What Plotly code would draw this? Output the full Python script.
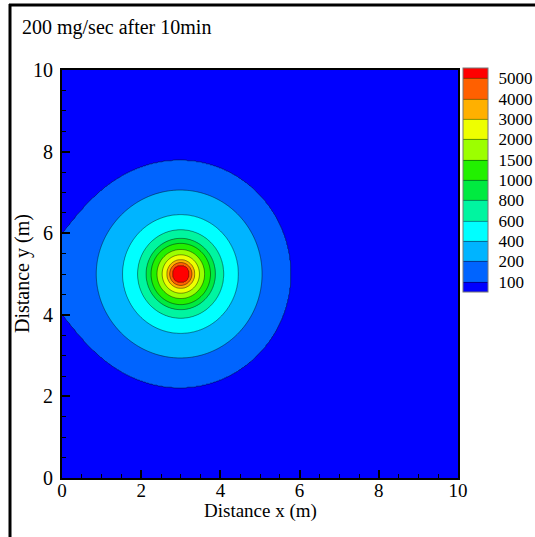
import numpy as np
import plotly.graph_objects as go

# ---- data ----
level_values = [100, 200, 400, 600, 800, 1000, 1500, 2000, 3000, 4000, 5000]
level_labels = ["100", "200", "400", "600", "800", "1000", "1500", "2000", "3000", "4000", "5000"]
# radius (m) of each contour level around the source
level_radius = [2.77, 2.05, 1.45, 1.08, 0.87, 0.75, 0.60, 0.47, 0.35, 0.28, 0.22]
# estimated tail beyond the 100 contour
outer_radius = [6.0, 10.0]
outer_conc = [4.5, 0.1]
peak_conc = 8000
wall_reflection = 0.45          # partial reflection at wall x=0 (100 contour meets wall at y=4..6)
source_x, source_y = 3.0, 5.0
band_colors = ["#0000FF", "#0064FF", "#00B4FF", "#00FFFF", "#00F5A0", "#00EA40",
               "#22F000", "#9CFF00", "#EEFF00", "#FFB000", "#FF6000", "#FF0000"]
x_ticks = [0, 2, 4, 6, 8, 10]
y_ticks = [0, 2, 4, 6, 8, 10]

# ---- field on grid ----
gx = np.linspace(0, 10, 401)
gy = np.linspace(0, 10, 401)
X, Y = np.meshgrid(gx, gy)

prof_r = np.array([0.0] + level_radius[::-1] + outer_radius)
prof_c = np.array([peak_conc] + level_values[::-1] + outer_conc, dtype=float)
prof_logc = np.log(prof_c)

def conc(r):
    return np.exp(np.interp(r, prof_r, prof_logc))

r1 = np.hypot(X - source_x, Y - source_y)
r2 = np.hypot(X + source_x, Y - source_y)
C = conc(r1) + wall_reflection * conc(r2)

log_levels = np.log(np.array([1e-3] + level_values + [1e6]))
idx = np.array([-1.0] + list(range(len(level_values))) + [11.0])
Z = np.interp(np.log(C), log_levels, idx)

ncol = len(band_colors)
colorscale = [[k / (ncol - 1), c] for k, c in enumerate(band_colors)]

# plot area geometry (pixels)
L, R, T, B = 62, 458, 70, 478
W, H = 535, 537
pw, ph = R - L, B - T

def px_x(p):
    return (p - L) / pw

def px_y(p):
    return (B - p) / ph

font_family = "Liberation Serif, Times New Roman, serif"

fig = go.Figure()
fig.add_trace(go.Contour(
    x=gx, y=gy, z=Z,
    autocontour=False,
    contours=dict(start=0, end=len(level_values) - 1, size=1, coloring="fill", showlines=True),
    line=dict(color="rgba(0,0,0,0.55)", width=0.8, smoothing=1),
    colorscale=colorscale,
    hoverinfo="skip",
    colorbar=dict(
        x=px_x(463), xanchor="left", xpad=0,
        y=px_y(68), yanchor="top", ypad=0,
        thickness=25, thicknessmode="pixels",
        len=224, lenmode="pixels",
        tickvals=list(range(len(level_values))),
        ticktext=level_labels,
        ticks="outside", ticklen=7, tickcolor="rgba(0,0,0,0)",
        tickfont=dict(family=font_family, size=17, color="black"),
        outlinewidth=1, outlinecolor="#777",
    ),
))

axis_common = dict(
    range=[0, 10], showgrid=False, zeroline=False,
    showline=True, linewidth=2, linecolor="black", mirror=True,
    ticks="inside", ticklen=8, tickwidth=2, tickcolor="black",
    minor=dict(dtick=0.5, ticks="inside", ticklen=4, tickwidth=1, tickcolor="black"),
    tickfont=dict(family=font_family, size=20, color="black"),
    automargin=False,
)

fig.update_layout(
    width=W, height=H, autosize=False,
    margin=dict(l=L, r=W - R, t=T, b=H - B, pad=0, autoexpand=False),
    paper_bgcolor="white", plot_bgcolor="white",
    font=dict(family=font_family, size=20, color="black"),
    title=dict(text="200 mg/sec after 10min", xref="container", yref="container",
               x=22 / W, y=1 - 27 / H, xanchor="left", yanchor="middle",
               font=dict(family=font_family, size=20, color="black")),
    xaxis=dict(axis_common, tickvals=x_ticks, ticklabelstandoff=-6,
               tickfont=dict(family=font_family, size=19, color="black")),
    yaxis=dict(axis_common, tickvals=y_ticks, ticklabelstandoff=3),
    annotations=[
        dict(text="Distance x (m)", xref="paper", yref="paper",
             x=0.5, y=px_y(511), xanchor="center", yanchor="middle",
             showarrow=False, font=dict(family=font_family, size=19, color="black")),
        dict(text="Distance y (m)", xref="paper", yref="paper",
             x=px_x(22), y=px_y(274), xanchor="center", yanchor="middle",
             textangle=-90, showarrow=False,
             font=dict(family=font_family, size=20, color="black")),
    ],
    shapes=[
        dict(type="line", xref="paper", yref="paper",
             x0=px_x(9), x1=px_x(537), y0=px_y(5), y1=px_y(5),
             line=dict(color="black", width=3)),
        dict(type="line", xref="paper", yref="paper",
             x0=px_x(10), x1=px_x(10), y0=px_y(4), y1=px_y(540),
             line=dict(color="black", width=3)),
    ],
)

fig.write_html("out.html")
